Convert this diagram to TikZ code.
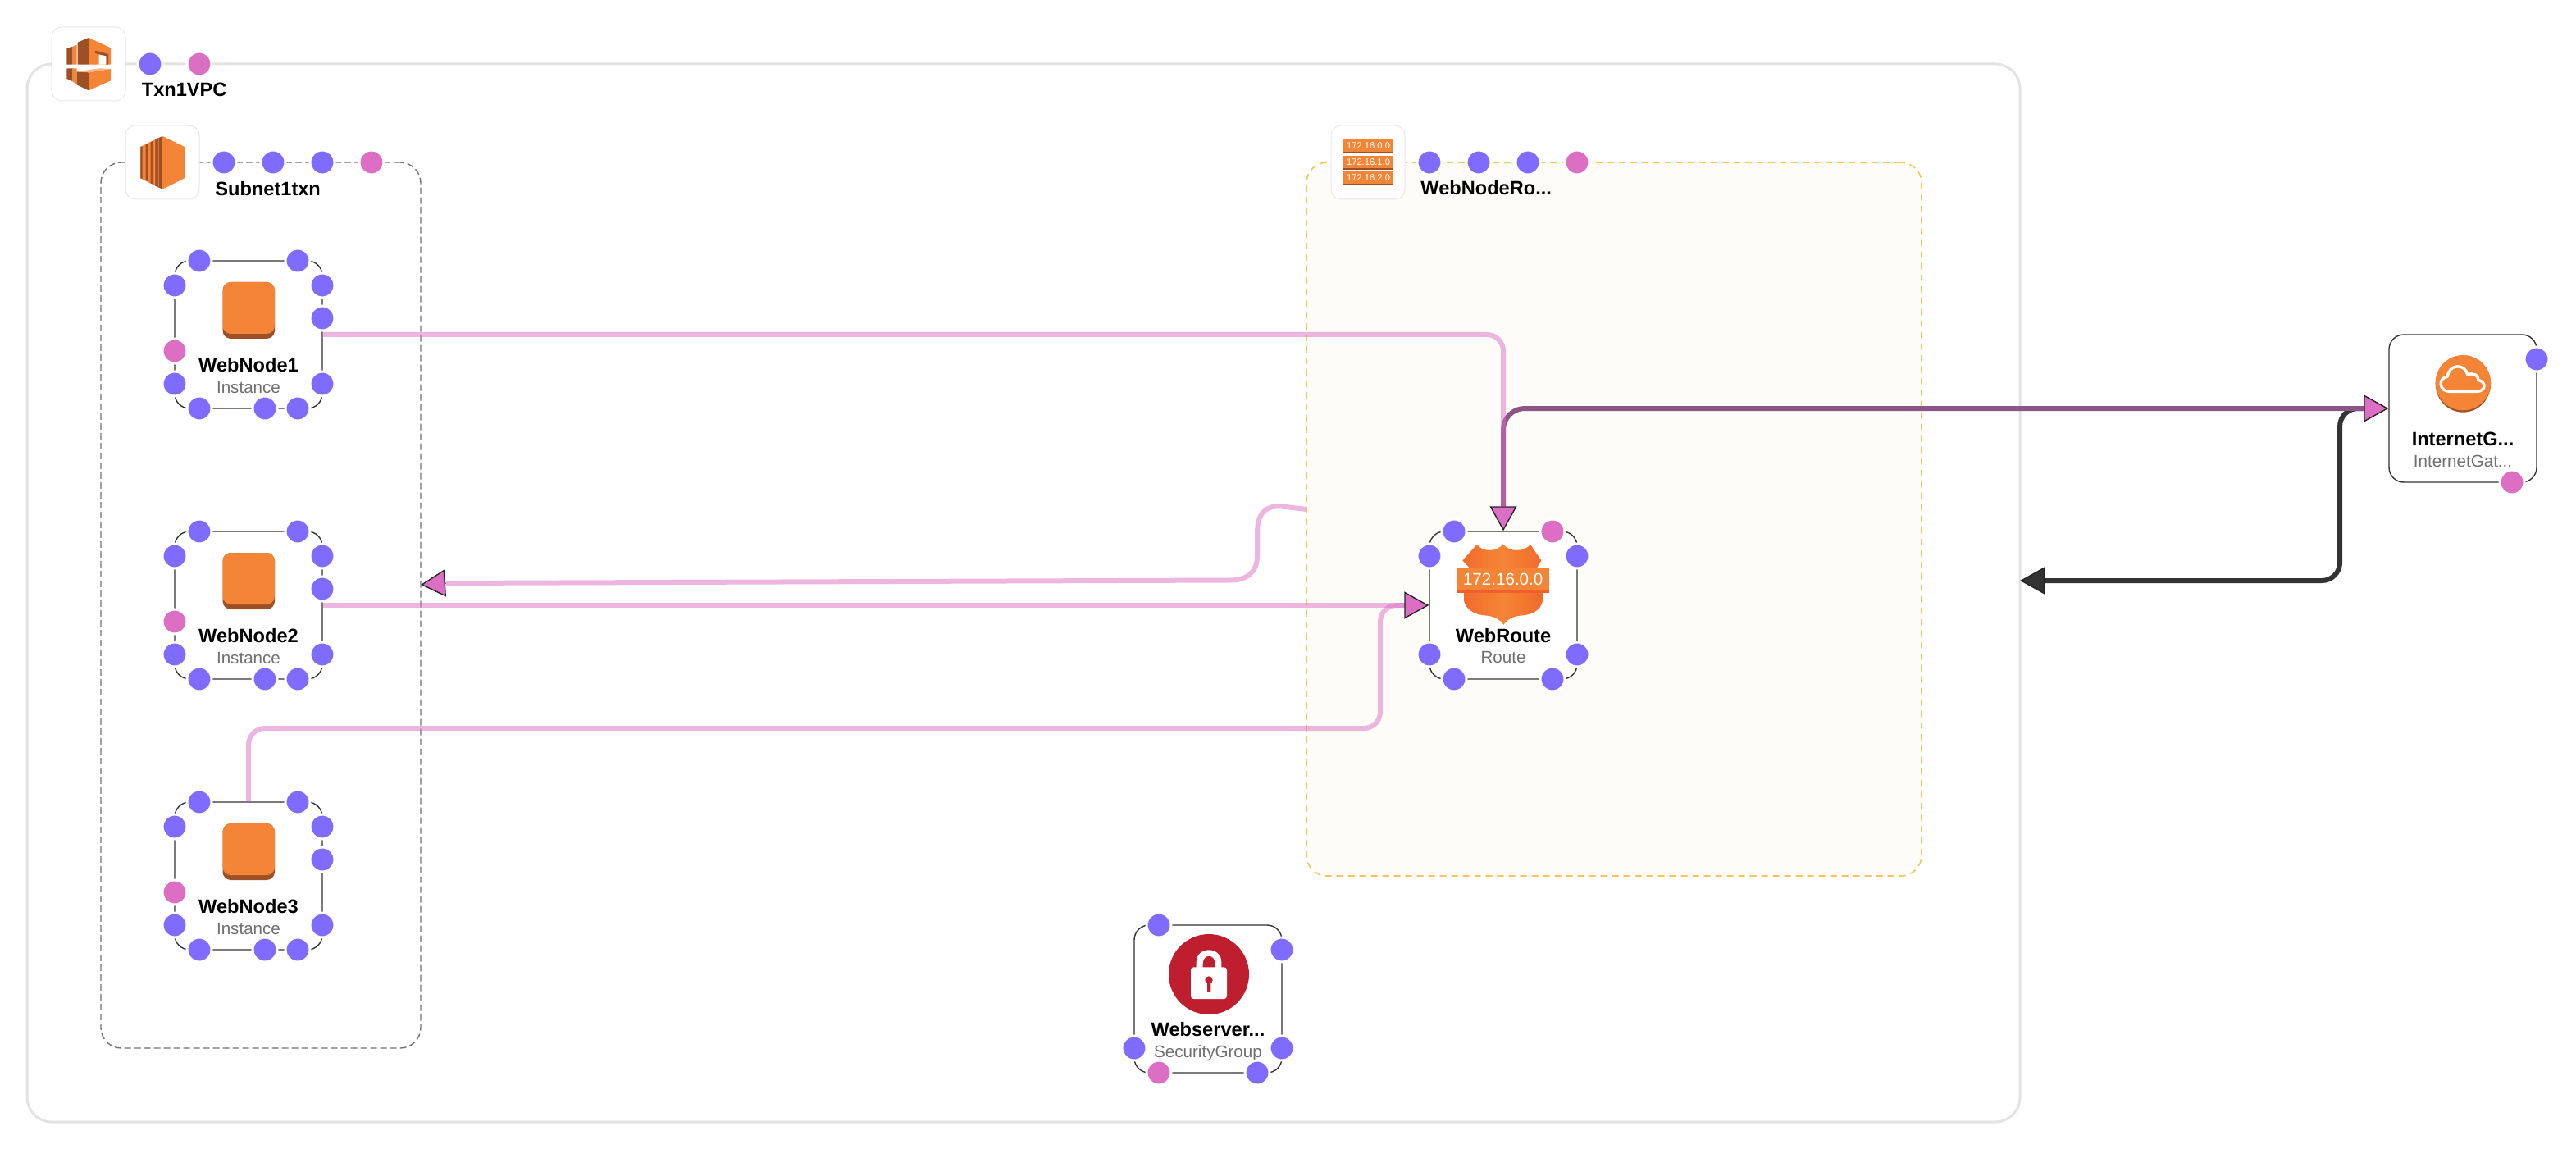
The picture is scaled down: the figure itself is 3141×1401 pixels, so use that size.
\documentclass[tikz,border=0pt]{standalone}
\usepackage{fontspec}
\setmainfont{Liberation Sans}
\usetikzlibrary{arrows.meta,calc}
\definecolor{portblue}{HTML}{7F6CFF}
\definecolor{portpink}{HTML}{DC6FC4}
\definecolor{awsorange}{HTML}{F58536}
\definecolor{awsdark}{HTML}{9D5025}
\definecolor{awslight}{HTML}{F9B183}
\definecolor{typegray}{HTML}{707070}
\definecolor{edgedark}{HTML}{333333}
\definecolor{edgemix}{HTML}{8B5585}
\definecolor{groupfill}{HTML}{FDFCF8}
\definecolor{groupyellow}{HTML}{F7C756}
\definecolor{sgred}{HTML}{BE1E2D}
\definecolor{shieldedge}{HTML}{F26A2C}
\definecolor{bannerline}{HTML}{F15F2B}
\tikzset{
  vpcbox/.style={draw=black!11,line width=1.5pt,rounded corners=15pt,inner sep=0,minimum width=1215pt,minimum height=645pt},
  subnetbox/.style={draw=black!55,line width=.7pt,dash pattern=on 4pt off 2pt,rounded corners=12.5pt,inner sep=0,minimum width=195pt,minimum height=540pt},
  routegroup/.style={draw=groupyellow,fill=groupfill,line width=.8pt,dash pattern=on 4pt off 3pt,rounded corners=12.5pt,inner sep=0,minimum width=375pt,minimum height=435pt},
  tile/.style={draw=black!9,fill=white,line width=.5pt,rounded corners=6pt,inner sep=0,minimum size=45pt},
  svcbox/.style={draw=black!80,fill=white,line width=.7pt,rounded corners=9pt,inner sep=0,minimum size=90pt},
  portdot/.style={circle,fill=portblue,draw=white,line width=1.5pt,inner sep=0,minimum size=15pt},
  portpk/.style={portdot,fill=portpink},
  namelabel/.style={anchor=base,inner sep=0,text=black,font=\fontsize{11.8}{14}\selectfont\bfseries},
  grouplabel/.style={namelabel,anchor=base west},
  typelabel/.style={anchor=base,inner sep=0,text=typegray,font=\fontsize{10.3}{12}\selectfont},
  pinkhead/.tip={Triangle[length=15pt,width=16.5pt,fill=portpink,color=black!85,line width=.7pt]},
  darkhead/.tip={Triangle[length=15pt,width=16.5pt,fill=edgedark,color=black!85,line width=.7pt]},
  softedge/.style={draw=portpink,draw opacity=.5,line width=3pt,rounded corners=10pt},
  headonly/.style={line width=.5pt,color=black!85,-pinkhead},
}
\newcommand{\instbox}[3]{%
  \node[svcbox] (#1) at (303,#2) {};
  \begin{scope}[shift={(303,#2)}]
    \fill[awsdark,rounded corners=5pt] (-31.5,-64) rectangle (32,5);
    \fill[awsorange,rounded corners=5pt] (-31.5,-64) rectangle (32,-1);
    \node[namelabel] (#1-name) at (0,45.5) {#3};
    \node[typelabel] (#1-type) at (0,71) {Instance};
  \end{scope}}
\newcommand{\instports}[2]{%
  \begin{scope}[shift={(303,#2)}]
    \node[portdot] (#1-t1) at (-60,-90) {};
    \node[portdot] (#1-t2) at (60,-90) {};
    \node[portdot] (#1-l1) at (-90,-60) {};
    \node[portpk]  (#1-l2) at (-90,20) {};
    \node[portdot] (#1-l3) at (-90,60) {};
    \node[portdot] (#1-r1) at (90,-60) {};
    \node[portdot] (#1-r2) at (90,-20) {};
    \node[portdot] (#1-r3) at (90,60) {};
    \node[portdot] (#1-b1) at (-60,90) {};
    \node[portdot] (#1-b2) at (20,90) {};
    \node[portdot] (#1-b3) at (60,90) {};
  \end{scope}}
\begin{document}
\begin{tikzpicture}[x=.5pt,y=-.5pt]
\useasboundingbox (0,0) rectangle (3141,1401);
\fill[white] (0,0) rectangle (3141,1401);
% containers
\node[vpcbox] (vpc) at (1248,723) {};
\node[subnetbox] (subnet) at (318,738) {};
\node[routegroup] (rtgroup) at (1968,633) {};
% service boxes
\instbox{web1}{408}{WebNode1}
\instbox{web2}{738}{WebNode2}
\instbox{web3}{1068}{WebNode3}
\node[svcbox] (route) at (1833,738) {};
\node[svcbox] (sg) at (1473,1218) {};
\node[svcbox] (igw) at (3003,498) {};
% route icon
\begin{scope}[shift={(1500,580)},x=.16667pt,y=-.16667pt]
  \shade[left color=shieldedge,right color=shieldedge,middle color=awsorange]
    (850,310) -- (902,252) .. controls (925,280) and (975,280) .. (998,250)
    .. controls (1020,280) and (1075,280) .. (1098,252) -- (1138,310) -- (1120,340) -- (1143,430) -- (1143,458)
    .. controls (1135,495) and (1100,510) .. (1060,512) .. controls (1030,515) and (1010,530) .. (1000,545)
    .. controls (990,530) and (970,515) .. (940,512) .. controls (900,510) and (865,495) .. (855,458) -- (855,430) -- (878,340) -- cycle;
  \fill[awsorange] (830,338) rectangle (1168,430);
  \fill[bannerline] (830,418) rectangle (1168,430);
  \node[inner sep=0,text=white,font=\fontsize{10.3}{12}\selectfont] (route-ip) at (998,378) {172.16.0.0};
\end{scope}
\node[namelabel] (route-name) at (1833,783.5) {WebRoute};
\node[typelabel] (route-type) at (1833,808) {Route};
% security group icon
\begin{scope}[shift={(1340,1090)},x=.16667pt,y=-.16667pt]
  \fill[sgred] (402,294) ellipse [x radius=147,y radius=147];
  \fill[white] (356,295) -- (356,250) .. controls (356,190) and (448,190) .. (448,250) -- (448,295) -- (425,295) -- (425,255) .. controls (425,218) and (380,218) .. (380,255) -- (380,295) -- cycle;
  \fill[white,rounded corners=1.7pt] (336,268) rectangle (468,384);
  \fill[sgred] (402,315) ellipse [x radius=14,y radius=14];
  \fill[sgred,rounded corners=1pt] (396,318) rectangle (409,360);
\end{scope}
\node[namelabel] (sg-name) at (1473,1263) {Webserver...};
\node[typelabel] (sg-type) at (1473,1289) {SecurityGroup};
% gateway icon
\begin{scope}[shift={(2800,380)},x=.16667pt,y=-.16667pt]
  \fill[awsdark] (610,264) ellipse [x radius=101,y radius=104];
  \fill[awsorange] (610,260) ellipse [x radius=101,y radius=101];
  \draw[white,line width=1.7pt,line join=round] (560,292) .. controls (520,292) and (518,240) .. (553,238)
    .. controls (556,190) and (620,188) .. (626,232) .. controls (648,220) and (668,235) .. (665,250)
    .. controls (698,258) and (692,292) .. (660,292) -- cycle;
\end{scope}
\node[namelabel] (igw-name) at (3003,543.3) {InternetG...};
\node[typelabel] (igw-type) at (3003,569.3) {InternetGat...};
% connectors
\coordinate (vpctip) at (2463,708);
\coordinate (blackbend) at (2853,600);
\coordinate (rtsrc) at (1593,621);
\coordinate (subtip) at (513,713);
\coordinate (subbase) at (544,711);
\coordinate (w3bend) at (1683,888);
\coordinate (rbase) at (1713,738);
\draw[edgedark,line width=3pt,rounded corners=11pt,{darkhead}-,shorten >=15pt]
  (vpctip) -- (blackbend |- vpctip) -- (blackbend |- igw.west) -- (igw.west);
\draw[edgemix,line width=3pt,rounded corners=13pt,{pinkhead}-{pinkhead}]
  (route.north) |- (igw.west);
\draw[softedge,shorten >=15pt] (web1.east) -| (route.north);
\draw[softedge] (web2.east) -- (rbase);
\draw[softedge] (web3.north) |- (w3bend) -- (w3bend |- rbase) -- (rbase);
\draw[draw=portpink,draw opacity=.5,line width=3pt]
  (rtsrc) -- (1563,617.5) .. controls (1540,615.5) and (1533,630) .. (1533,650) -- (1533,678)
  .. controls (1533,698) and (1520,707.5) .. (1500,707.5) -- (subbase);
\draw[headonly] (subbase) -- (subtip);
\draw[headonly] (rbase) -- (route.west);
% tiles
\node[tile] (vpc-tile) at (108,78) {};
\node[tile] (subnet-tile) at (198,198) {};
\node[tile] (rt-tile) at (1668,198) {};
% VPC icon
\begin{scope}[x=.17857pt,y=-.16667pt]
  \fill[awsdark] (228,177) -- (248,170) -- (248,236) -- (228,236) -- cycle;
  \fill[awsorange] (248,170) -- (262,165) -- (262,236) -- (248,236) -- cycle;
  \fill[awsdark] (265,155) -- (303,138) -- (303,236) -- (265,236) -- cycle;
  \fill[awsorange] (303,138) -- (378,175) -- (378,236) -- (303,236) -- cycle;
  \fill[awsdark] (325,185) -- (370,198) -- (370,236) -- (362,236) -- (362,205) -- (325,195) -- cycle;
  \fill[white] (338,200) -- (362,205) -- (362,236) -- (338,236) -- cycle;
  \fill[awsdark] (228,250) -- (248,250) -- (248,298) -- (228,288) -- cycle;
  \fill[awsorange] (248,250) -- (262,250) -- (262,310) -- (248,298) -- cycle;
  \fill[awsdark] (262,262) -- (303,265) -- (303,331) -- (262,310) -- cycle;
  \fill[awsorange] (303,265) -- (378,252) -- (378,295) -- (303,331) -- cycle;
  \fill[awslight] (262,262) -- (340,250) -- (378,252) -- (303,265) -- cycle;
  % subnet icon
  \fill[awsorange] (480,537) -- (540,505) -- (540,685) -- (480,652) -- cycle;
  \fill[awsdark] (480,537) -- (486,535) -- (486,654) -- (480,652) -- cycle;
  \fill[awsdark] (497,530) -- (504,526) -- (504,664) -- (497,660) -- cycle;
  \fill[awsdark] (514,520) -- (521,516) -- (521,673) -- (514,670) -- cycle;
  \fill[awsdark] (530,510) -- (555,498) -- (555,692) -- (530,680) -- cycle;
  \fill[awsorange] (540,505) -- (542,504) -- (542,685) -- (540,684) -- cycle;
  \fill[awsorange] (555,498) -- (630,537) -- (630,652) -- (555,692) -- cycle;
\end{scope}
% route table icon
\foreach \yy/\ip/\nm in {170/172.16.0.0/a,190/172.16.1.0/b,209/172.16.2.0/c}{
  \fill[awsorange] (1638,\yy) rectangle (1699,\yy+17);
  \fill[awsdark] (1638,\yy+15) rectangle (1699,\yy+17);
  \node[inner sep=0,text=white,font=\fontsize{5.6}{7}\selectfont] (rt-\nm) at (1668.5,\yy+7.5) {\ip};
}
% group labels
\node[grouplabel] (vpc-name) at (172.5,117.5) {Txn1VPC};
\node[grouplabel] (subnet-name) at (262,238.5) {Subnet1txn};
\node[grouplabel] (rt-name) at (1732,238) {WebNodeRo...};
% ports
\node[portdot] (vpc-p1) at (183,78) {};
\node[portpk]  (vpc-p2) at (243,78) {};
\node[portdot] (sn-p1) at (273,198) {};
\node[portdot] (sn-p2) at (333,198) {};
\node[portdot] (sn-p3) at (393,198) {};
\node[portpk]  (sn-p4) at (453,198) {};
\node[portdot] (rg-p1) at (1743,198) {};
\node[portdot] (rg-p2) at (1803,198) {};
\node[portdot] (rg-p3) at (1863,198) {};
\node[portpk]  (rg-p4) at (1923,198) {};
\instports{web1}{408}
\instports{web2}{738}
\instports{web3}{1068}
\node[portdot] (rt-p1) at (1773,648) {};
\node[portpk]  (rt-p2) at (1893,648) {};
\node[portdot] (rt-p3) at (1743,678) {};
\node[portdot] (rt-p4) at (1743,798) {};
\node[portdot] (rt-p5) at (1923,678) {};
\node[portdot] (rt-p6) at (1923,798) {};
\node[portdot] (rt-p7) at (1773,828) {};
\node[portdot] (rt-p8) at (1893,828) {};
\node[portdot] (sg-p1) at (1413,1128) {};
\node[portdot] (sg-p2) at (1563,1158) {};
\node[portdot] (sg-p3) at (1563,1278) {};
\node[portdot] (sg-p4) at (1383,1278) {};
\node[portpk]  (sg-p5) at (1413,1308) {};
\node[portdot] (sg-p6) at (1533,1308) {};
\node[portdot] (igw-p1) at (3093,438) {};
\node[portpk]  (igw-p2) at (3063,588) {};
\end{tikzpicture}
\end{document}
